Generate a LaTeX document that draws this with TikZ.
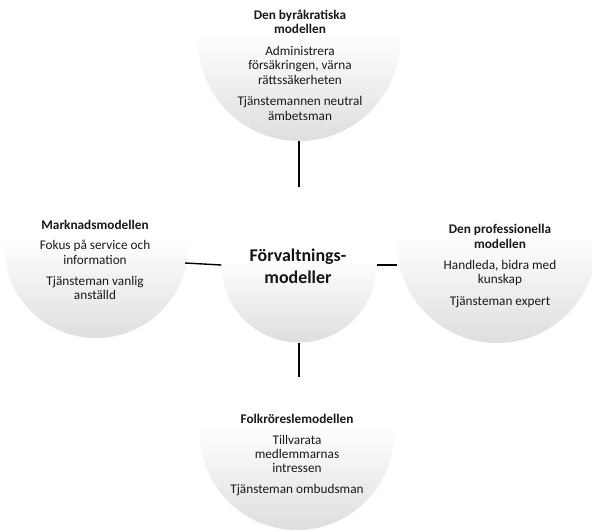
\documentclass[tikz,border=0pt]{standalone}
\usepackage{fontspec}
\setmainfont{Carlito}
\definecolor{fadegray}{gray}{0.87}
\pgfdeclareverticalshading{softfade}{100bp}{color(0bp)=(fadegray); color(25bp)=(fadegray); color(52bp)=(white); color(100bp)=(white)}
\tikzset{
  bubble/.style={circle, shade, shading=softfade, minimum size=#1, inner sep=0pt, draw=none},
  txt/.style={align=center, inner sep=0pt, text=black!90, font=\fontsize{13.3}{14.5}\selectfont},
  ctxt/.style={align=center, inner sep=0pt, text=black!92, font=\fontsize{18}{22}\selectfont\bfseries},
  conn/.style={draw=black, line width=1.4bp}
}
\begin{document}
\begin{tikzpicture}[x=1bp,y=-1bp]
\useasboundingbox (0,0) rectangle (592,532);
\clip (0,0) rectangle (592,532);
% outer circles
\node[bubble=202bp] (t) at (299,40) {};
\node[bubble=184bp] (l) at (96,246) {};
\node[bubble=200bp] (r) at (497,243) {};
\node[bubble=194bp] (b) at (297,433) {};
% centre circle
\node[bubble=155bp] (c) at (299,265) {};
% texts
\node[txt] (tt) at (300,65) {\textbf{Den byråkratiska}\\\textbf{modellen}\\[7bp]Administrera\\försäkringen, värna\\rättssäkerheten\\[7bp]Tjänstemannen neutral\\ämbetsman};
\node[txt] (lt) at (95,260) {\textbf{Marknadsmodellen}\\[6bp]Fokus på service och\\information\\[7bp]Tjänsteman vanlig\\anställd};
\node[txt] (rt) at (500,266) {\textbf{Den professionella}\\\textbf{modellen}\\[7bp]Handleda, bidra med\\kunskap\\[7bp]Tjänsteman expert};
\node[txt] (bt) at (297,455) {\textbf{Folkröreslemodellen}\\[6bp]Tillvarata\\medlemmarnas\\intressen\\[6bp]Tjänsteman ombudsman};
\node[ctxt] (ct) at (298,266) {Förvaltnings-\\modeller};
% connectors
\coordinate (lend) at (185,263);
\coordinate (rend) at (397,265);
\coordinate (bend) at (299,377);
\draw[conn] (c.north) -- (t.south);
\draw[conn] (c.west) -- (lend);
\draw[conn] (c.east) -- (rend);
\draw[conn] (c.south) -- (bend);
\end{tikzpicture}
\end{document}
